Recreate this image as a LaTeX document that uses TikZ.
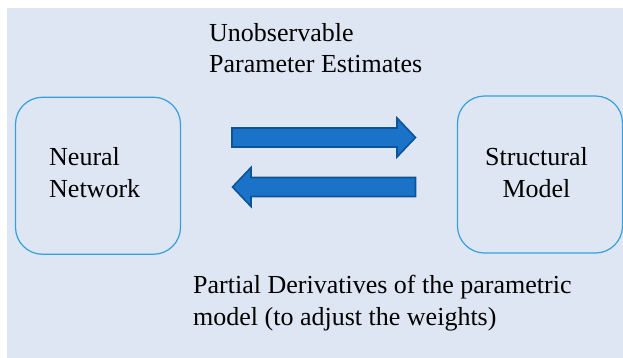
\documentclass[tikz,border=0pt]{standalone}
\usepackage{fontspec}
\setmainfont{Liberation Serif}
\definecolor{panel}{RGB}{223,230,243}
\definecolor{boxline}{RGB}{52,160,220}
\definecolor{arrowfill}{RGB}{26,115,200}
\definecolor{arrowline}{RGB}{14,84,148}
\tikzset{
  unit/.style={rectangle, rounded corners=27pt, draw=boxline, line width=1.2pt,
               inner sep=0pt, minimum width=165pt, minimum height=157pt},
  blockarrow/.style={fill=arrowfill, draw=arrowline, line width=1.6pt, line join=miter},
  caption/.style={inner sep=0pt, font=\fontsize{26}{31.5}\selectfont},
}
\begin{document}
\begin{tikzpicture}[x=1pt, y=-1pt]
  \useasboundingbox (0,0) rectangle (623,358);
  % panel
  \fill[white] (0,0) rectangle (623,358);
  \fill[panel] (7,8) rectangle (623,358);

  % the two modules
  \node[unit] (nn) at (98,175.75) {};
  \node[unit] (sm) at (540,174.5) {};

  \node[caption, anchor=base west, align=left] (nnlabel) at (49,197) {Neural\\Network};
  \node[caption, anchor=base, align=center] (smlabel) at (536.5,197) {Structural\\Model};

  % forward and backward block arrows
  \draw[blockarrow] (232,128) -- (397,128) -- (397,118) -- (415.5,137.5)
        -- (397,157) -- (397,147) -- (232,147) -- cycle;
  \draw[blockarrow] (415.5,177.5) -- (251,177.5) -- (251,167.5) -- (232.5,187)
        -- (251,206.5) -- (251,196.5) -- (415.5,196.5) -- cycle;

  % arrow captions
  \node[caption, anchor=base west, align=left] (fwd) at (209,73)
    {Unobservable\\Parameter Estimates};
  \node[caption, anchor=base west, align=left] (bwd) at (193,325)
    {Partial Derivatives of the parametric\\model (to adjust the weights)};
\end{tikzpicture}
\end{document}
